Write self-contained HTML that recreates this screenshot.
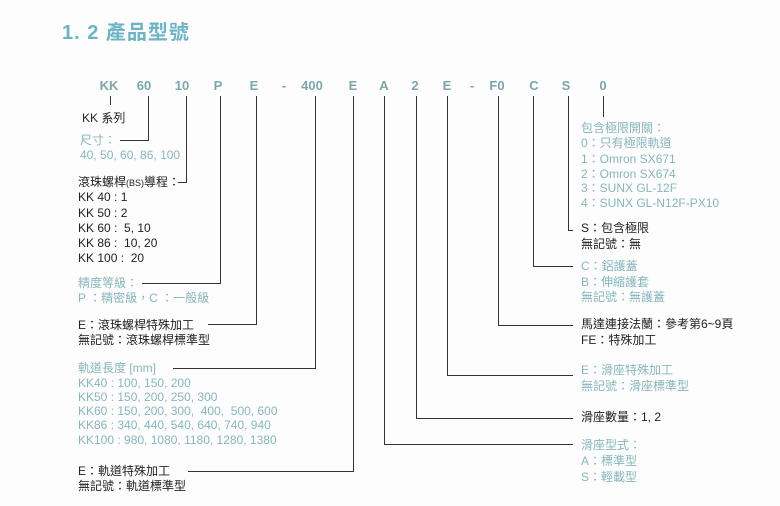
<!DOCTYPE html>
<html><head><meta charset="utf-8"><style>
body{margin:0;background:#fff;}
#c{position:relative;width:780px;height:506px;overflow:hidden;background:#fdfdfd;font-family:"Liberation Sans","Noto Sans CJK TC",sans-serif;}
.t{position:absolute;font-size:12px;line-height:14px;white-space:nowrap;color:#222;}
.g{color:#86b7bb;}
.code{position:absolute;top:78px;font-size:13px;font-weight:bold;color:#7ba7ac;transform:translateX(-50%);}
.title{position:absolute;left:62px;top:16px;font-size:20px;font-weight:bold;color:#6bb5c6;letter-spacing:1px;}
svg{position:absolute;left:0;top:0;}
</style></head><body><div id="c">
<div class="title">1. 2 <span style="font-family:'Noto Sans CJK TC',sans-serif;">產品型號</span></div>
<div class="code" style="left:109px">KK</div>
<div class="code" style="left:144px">60</div>
<div class="code" style="left:182px">10</div>
<div class="code" style="left:218px">P</div>
<div class="code" style="left:254px">E</div>
<div class="code" style="left:284px">-</div>
<div class="code" style="left:312px">400</div>
<div class="code" style="left:353px">E</div>
<div class="code" style="left:384px">A</div>
<div class="code" style="left:415px">2</div>
<div class="code" style="left:447px">E</div>
<div class="code" style="left:472px">-</div>
<div class="code" style="left:497px">F0</div>
<div class="code" style="left:534px">C</div>
<div class="code" style="left:566px">S</div>
<div class="code" style="left:603px">0</div>
<svg width="780" height="506" stroke="#333" stroke-width="1" fill="none">
<path d="M110.5 96V105"/>
<path d="M148.5 96V140.5H120"/>
<path d="M186.5 96V182.5H178"/>
<path d="M220.5 96V283.5H142"/>
<path d="M256.5 96V324.5H208"/>
<path d="M315.5 96V368.5H173"/>
<path d="M353.5 96V471.5H188"/>
<path d="M384.5 96V444.5H573"/>
<path d="M416.5 96V418.5H573"/>
<path d="M447.5 96V375.5H573"/>
<path d="M498.5 96V325.5H573"/>
<path d="M533.5 96V266.5H573"/>
<path d="M568.5 96V230.5H573"/>
<path d="M603.5 96V117"/>
</svg>
<div class="t" style="left:82px;top:111px">KK 系列</div>
<div class="t g" style="left:80px;top:133px">尺寸：</div>
<div class="t g" style="left:80px;top:148px">40, 50, 60, 86, 100</div>
<div class="t" style="left:78px;top:175px">滾珠螺桿<span style="font-size:9px">(BS)</span>導程：</div>
<div class="t" style="left:78px;top:190px">KK 40 : 1</div>
<div class="t" style="left:78px;top:206px">KK 50 : 2</div>
<div class="t" style="left:78px;top:221px">KK 60 :&nbsp; 5, 10</div>
<div class="t" style="left:78px;top:236px">KK 86 :&nbsp; 10, 20</div>
<div class="t" style="left:78px;top:251px">KK 100 :&nbsp; 20</div>
<div class="t g" style="left:78px;top:276px">精度等級：</div>
<div class="t g" style="left:78px;top:291px">P ：精密級，C ：一般級</div>
<div class="t" style="left:78px;top:318px">E：滾珠螺桿特殊加工</div>
<div class="t" style="left:78px;top:333px">無記號：滾珠螺桿標準型</div>
<div class="t g" style="left:78px;top:361px">軌道長度 [mm]</div>
<div class="t g" style="left:78px;top:376px">KK40 : 100, 150, 200</div>
<div class="t g" style="left:78px;top:390px">KK50 : 150, 200, 250, 300</div>
<div class="t g" style="left:78px;top:404px">KK60 : 150, 200, 300,&nbsp; 400,&nbsp; 500, 600</div>
<div class="t g" style="left:78px;top:418px">KK86 : 340, 440, 540, 640, 740, 940</div>
<div class="t g" style="left:78px;top:433px">KK100 : 980, 1080, 1180, 1280, 1380</div>
<div class="t" style="left:78px;top:464px">E：軌道特殊加工</div>
<div class="t" style="left:78px;top:479px">無記號：軌道標準型</div>
<div class="t g" style="left:581px;top:121px">包含極限開關：</div>
<div class="t g" style="left:581px;top:136px">0：只有極限軌道</div>
<div class="t g" style="left:581px;top:152px">1：Omron SX671</div>
<div class="t g" style="left:581px;top:167px">2：Omron SX674</div>
<div class="t g" style="left:581px;top:181px">3：SUNX GL-12F</div>
<div class="t g" style="left:581px;top:196px">4：SUNX GL-N12F-PX10</div>
<div class="t" style="left:581px;top:221px">S：包含極限</div>
<div class="t" style="left:581px;top:237px">無記號：無</div>
<div class="t g" style="left:581px;top:259px">C：鋁護蓋</div>
<div class="t g" style="left:581px;top:275px">B：伸縮護套</div>
<div class="t g" style="left:581px;top:290px">無記號：無護蓋</div>
<div class="t" style="left:581px;top:317px">馬達連接法蘭：參考第6~9頁</div>
<div class="t" style="left:581px;top:333px">FE：特殊加工</div>
<div class="t g" style="left:581px;top:363px">E：滑座特殊加工</div>
<div class="t g" style="left:581px;top:379px">無記號：滑座標準型</div>
<div class="t" style="left:581px;top:410px">滑座數量：1, 2</div>
<div class="t g" style="left:581px;top:438px">滑座型式：</div>
<div class="t g" style="left:581px;top:454px">A：標準型</div>
<div class="t g" style="left:581px;top:470px">S：輕載型</div>
</div></body></html>
